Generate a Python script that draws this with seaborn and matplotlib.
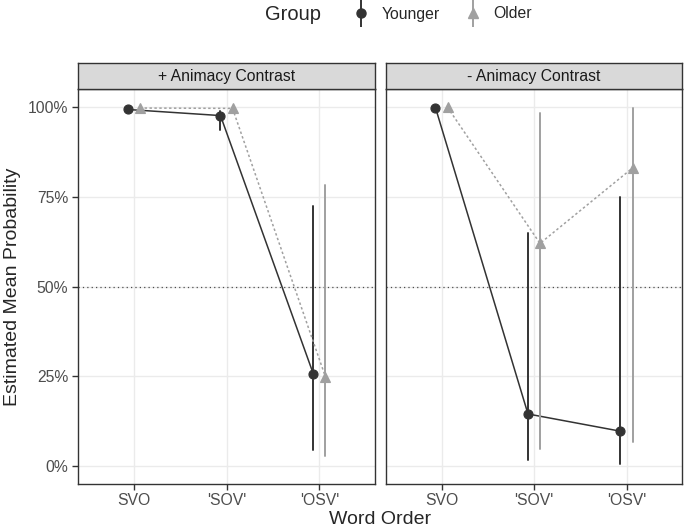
import numpy as np
import pandas as pd
import matplotlib
matplotlib.use("Agg")
import matplotlib.pyplot as plt
from matplotlib.lines import Line2D
from matplotlib.legend_handler import HandlerTuple
import seaborn as sns

# ---- data ----
orders = ["SVO", "'SOV'", "'OSV'"]
groups = ["Younger", "Older"]
panels = ["+ Animacy Contrast", "- Animacy Contrast"]

young_plus_est = [0.993, 0.976, 0.257]
young_plus_lo = [0.985, 0.936, 0.045]
young_plus_hi = [0.997, 0.990, 0.724]

older_plus_est = [0.997, 0.996, 0.249]
older_plus_lo = [0.990, 0.990, 0.029]
older_plus_hi = [0.999, 0.999, 0.782]

young_minus_est = [0.998, 0.145, 0.097]
young_minus_lo = [0.990, 0.017, 0.006]
young_minus_hi = [0.9995, 0.648, 0.750]

older_minus_est = [0.999, 0.620, 0.830]
older_minus_lo = [0.990, 0.047, 0.068]
older_minus_hi = [1.000, 0.982, 0.996]

ytick_vals = [0, 0.25, 0.5, 0.75, 1.0]
ytick_labels = ["0%", "25%", "50%", "75%", "100%"]

series = {
    (panels[0], "Younger"): (young_plus_est, young_plus_lo, young_plus_hi),
    (panels[0], "Older"): (older_plus_est, older_plus_lo, older_plus_hi),
    (panels[1], "Younger"): (young_minus_est, young_minus_lo, young_minus_hi),
    (panels[1], "Older"): (older_minus_est, older_minus_lo, older_minus_hi),
}
rows = []
for (panel, grp), (est, lo, hi) in series.items():
    for o, e, l, h in zip(orders, est, lo, hi):
        for v in (l, e, h):
            rows.append(dict(panel=panel, group=grp, order=o, prob=v))
df = pd.DataFrame(rows)

# ---- style ----
sns.set_style("white")
plt.rcParams["font.family"] = ["Liberation Sans", "DejaVu Sans"]

dark = "#333333"
light = "#A0A0A0"
grid_c = "#EBEBEB"
small_fs = 11.3
title_fs = 14
W, H = 685, 530
fig = plt.figure(figsize=(W / 100, H / 100), dpi=100)

panel_x = [(78, 375), (386, 682)]
p_top, p_bot = 89, 484
strip_top = 63

for i, panel in enumerate(panels):
    x0, x1 = panel_x[i]
    ax = fig.add_axes([x0 / W, 1 - p_bot / H, (x1 - x0) / W, (p_bot - p_top) / H])
    sub = df[df.panel == panel]
    sns.pointplot(data=sub, x="order", y="prob", hue="group", order=orders,
                  hue_order=groups, estimator="median", errorbar=("pi", 100),
                  dodge=0.13, markers=["o", "^"],
                  linestyles=["-", (0, (1.6, 1.6))],
                  palette=[dark, light], markersize=6.5, linewidth=1.1,
                  err_kws={"linewidth": 1.4}, capsize=0, legend=False, ax=ax)
    ax.set_xlim(-0.6, 2.6)
    ax.set_ylim(-0.05, 1.05)
    ax.set_yticks(ytick_vals)
    ax.axhline(0.5, color="#4D4D4D", linestyle=(0, (1, 2.5)), linewidth=0.9, zorder=1)
    ax.grid(True, color=grid_c, linewidth=1.0, zorder=0)
    ax.set_axisbelow(True)
    for s in ax.spines.values():
        s.set_color(dark)
        s.set_linewidth(1.0)
    ax.set_xlabel("")
    ax.set_ylabel("")
    ax.tick_params(axis="x", length=4, width=1, color=dark, labelcolor="#4D4D4D",
                   labelsize=small_fs, pad=2.5, bottom=True)
    if i == 0:
        ax.set_yticklabels(ytick_labels)
        ax.tick_params(axis="y", length=4, width=1, color=dark, labelcolor="#4D4D4D",
                       labelsize=small_fs, pad=3, left=True)
    else:
        ax.tick_params(axis="y", left=False, labelleft=False)
    # strip
    sax = fig.add_axes([x0 / W, 1 - p_top / H, (x1 - x0) / W, (p_top - strip_top) / H])
    sax.set_facecolor("#D9D9D9")
    sax.set_xticks([])
    sax.set_yticks([])
    for s in sax.spines.values():
        s.set_color(dark)
        s.set_linewidth(1.0)
    sax.text(0.5, 0.48, panel, ha="center", va="center", fontsize=small_fs,
             color="#1A1A1A", transform=sax.transAxes)

fig.text(380 / W, 1 - 520 / H, "Word Order", ha="center", va="center", fontsize=title_fs)
fig.text(13 / W, 1 - 287 / H, "Estimated Mean Probability", ha="center", va="center",
         rotation=90, fontsize=title_fs)

# legend
fig.text(265 / W, 1 - 14 / H, "Group", ha="left", va="center", fontsize=title_fs + 0.5)
h_y = (Line2D([], [], color=dark, marker="|", markersize=20, markeredgewidth=1.4, linestyle="none"),
       Line2D([], [], color=dark, marker="o", markersize=6.5, linestyle="none"))
h_o = (Line2D([], [], color=light, marker="|", markersize=20, markeredgewidth=1.4, linestyle="none"),
       Line2D([], [], color=light, marker="^", markersize=6.5, linestyle="none"))
fig.legend([h_y, h_o], groups, handler_map={tuple: HandlerTuple(ndivide=1, pad=0)},
           loc="center left", bbox_to_anchor=(350 / W, 1 - 14 / H), ncol=2, frameon=False,
           fontsize=small_fs, handlelength=1.4, handletextpad=0.6, columnspacing=1.4,
           borderaxespad=0, borderpad=0)

fig.savefig("out.png", dpi=100, facecolor="white")
